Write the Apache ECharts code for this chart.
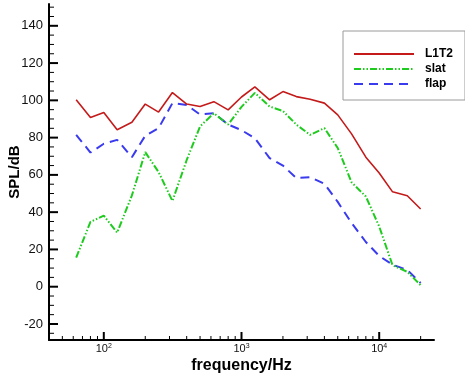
<!DOCTYPE html>
<html>
<head>
<meta charset="utf-8">
<script src="https://cdn.jsdelivr.net/npm/echarts@6/dist/echarts.min.js"></script>
<style>
html,body{margin:0;padding:0;background:#fff;}
#c{width:465px;height:375px;}
</style>
</head>
<body>
<div id="c"></div>
<script>
// ---- data ----
const freq = [63, 80, 100, 125, 160, 200, 250, 315, 400, 500, 630, 800, 1000, 1250, 1600, 2000, 2500, 3150, 4000, 5000, 6300, 8000, 10000, 12500, 16000, 20000];
const L1T2 = [100.3, 90.8, 93.5, 84.2, 88.2, 98.0, 93.7, 104.2, 98.0, 96.7, 99.3, 94.9, 101.8, 107.2, 100.3, 104.7, 102.0, 100.6, 98.5, 92.2, 82.0, 69.5, 61.0, 50.9, 48.8, 41.7];
const slat = [15.6, 34.8, 38.1, 29.0, 49.0, 72.2, 61.5, 46.0, 68.0, 86.0, 93.1, 87.0, 96.5, 104.0, 96.7, 94.3, 87.0, 81.5, 85.1, 74.4, 56.0, 48.4, 32.3, 11.5, 8.0, 0.8];
const flap = [81.5, 72.0, 76.7, 78.8, 69.5, 81.0, 85.1, 98.5, 97.5, 92.4, 93.1, 87.0, 84.0, 79.7, 69.0, 65.0, 58.3, 58.8, 55.2, 45.5, 34.2, 24.0, 16.5, 11.8, 9.0, 2.0];
const seriesNames = ['L1T2', 'slat', 'flap'];
const xRange = [40, 25000];
const yRange = [-28.6, 151.7];
const xMajorTicks = [100, 1000, 10000];
const xMinorTicks = [50, 60, 70, 80, 90, 200, 300, 400, 500, 600, 700, 800, 900, 2000, 3000, 4000, 5000, 6000, 7000, 8000, 9000, 20000];
const yMajorTicks = [-20, 0, 20, 40, 60, 80, 100, 120, 140];
const yMinorTicks = [-25, -15, -10, -5, 5, 10, 15, 25, 30, 35, 45, 50, 55, 65, 70, 75, 85, 90, 95, 105, 110, 115, 125, 130, 135, 145, 150];

const FONT = 'Liberation Sans, Arial, Helvetica, sans-serif';

function pairs(ys) { return freq.map((f, i) => [f, ys[i]]); }

function xTickSeries(ticks, len, w) {
  return {
    type: 'custom', silent: true, clip: false, z: 10,
    data: ticks.map(t => [t, yRange[0]]),
    renderItem: function (params, api) {
      const p = api.coord([api.value(0), yRange[0]]);
      return { type: 'line', shape: { x1: p[0], y1: p[1], x2: p[0], y2: p[1] - len },
               style: { stroke: '#000', lineWidth: w } };
    }
  };
}
function yTickSeries(ticks, len, w) {
  return {
    type: 'custom', silent: true, clip: false, z: 10,
    data: ticks.map(t => [xRange[0], t]),
    renderItem: function (params, api) {
      const p = api.coord([xRange[0], api.value(1)]);
      return { type: 'line', shape: { x1: p[0], y1: p[1], x2: p[0] + len, y2: p[1] },
               style: { stroke: '#000', lineWidth: w } };
    }
  };
}

const chart = echarts.init(document.getElementById('c'), null, { renderer: 'canvas' });
chart.setOption({
  backgroundColor: '#fff',
  animation: false,
  grid: { left: 49, right: 31, top: 4, bottom: 35, containLabel: false, outerBoundsMode: 'none' },
  legend: {
    data: seriesNames,
    orient: 'vertical',
    left: 343, top: 31,
    padding: [17, 12, 10, 10],
    itemGap: 3,
    itemWidth: 60, itemHeight: 14,
    backgroundColor: '#fff',
    borderColor: '#9a9a9a', borderWidth: 1,
    itemStyle: { opacity: 0 },
    textStyle: { fontFamily: FONT, fontWeight: 'bold', fontSize: 12, color: '#000', padding: [0, 0, 0, 6] }
  },
  xAxis: {
    type: 'log', logBase: 10, min: xRange[0], max: xRange[1],
    name: 'frequency/Hz', nameLocation: 'middle', nameGap: 18, nameMoveOverlap: false,
    nameTextStyle: { fontFamily: FONT, fontWeight: 'bold', fontSize: 16, color: '#000' },
    axisLine: { show: true, onZero: false, lineStyle: { color: '#000', width: 2 } },
    axisTick: { show: false },
    minorTick: { show: false },
    splitLine: { show: false },
    axisLabel: {
      margin: 3, fontFamily: FONT, fontSize: 11, color: '#111', lineHeight: 12,
      showMinLabel: true, showMaxLabel: true,
      formatter: function (v) {
        const e = Math.log10(v);
        if (Math.abs(e - Math.round(e)) > 1e-6) return '';
        return '10{s|' + Math.round(e) + '}';
      },
      rich: { s: { fontSize: 7, lineHeight: 7, verticalAlign: 'top', fontFamily: FONT, color: '#111' } }
    }
  },
  yAxis: {
    type: 'value', min: yRange[0], max: yRange[1], splitNumber: 9,
    name: 'SPL/dB', nameLocation: 'middle', nameGap: 27, nameMoveOverlap: false,
    nameTextStyle: { fontFamily: FONT, fontWeight: 'bold', fontSize: 15, color: '#000' },
    axisLine: { show: true, onZero: false, lineStyle: { color: '#000', width: 2 } },
    axisTick: { show: false },
    splitLine: { show: false },
    axisLabel: {
      margin: 6, fontFamily: FONT, fontSize: 13, color: '#111',
      formatter: function (v) {
        const r = Math.round(v);
        if (Math.abs(v - r) > 1e-6 || r % 20 !== 0) return '';
        return String(r);
      }
    }
  },
  series: [
    { name: 'flap', type: 'line', data: pairs(flap), symbol: 'none', z: 3,
      lineStyle: { color: '#3a3aef', width: 2, type: [9, 6] }, itemStyle: { color: '#3a3aef' } },
    { name: 'slat', type: 'line', data: pairs(slat), symbol: 'none', z: 4,
      lineStyle: { color: '#1ecb1e', width: 2, type: [7, 2, 1.5, 2, 1.5, 2] }, itemStyle: { color: '#1ecb1e' } },
    { name: 'L1T2', type: 'line', data: pairs(L1T2), symbol: 'none', z: 5,
      lineStyle: { color: '#c41a1a', width: 1.6, type: 'solid' }, itemStyle: { color: '#c41a1a' } },
    xTickSeries(xMajorTicks, 8, 2),
    xTickSeries(xMinorTicks, 4, 1),
    yTickSeries(yMajorTicks, 9, 2),
    yTickSeries(yMinorTicks, 5, 1)
  ]
});
</script>
</body>
</html>
